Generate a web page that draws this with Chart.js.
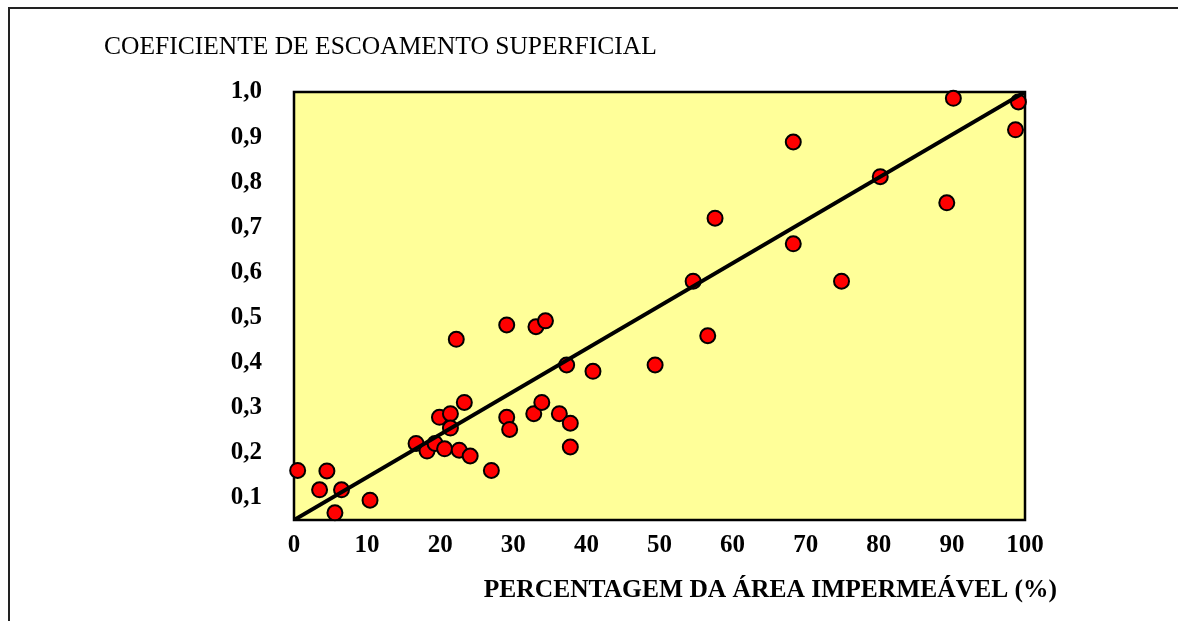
<!DOCTYPE html>
<html>
<head>
<meta charset="utf-8">
<script src="https://cdn.jsdelivr.net/npm/chart.js@4"></script>
<style>
  html, body { margin: 0; padding: 0; background: #fff; }
  #wrap { width: 1178px; height: 621px; }
</style>
</head>
<body>
<div id="wrap"><canvas id="runoffChart" width="1178" height="621"></canvas></div>
<script>
// Coeficiente de escoamento x % área impermeável

const imperv = [
  0.5, 4.5, 3.5, 6.5, 10.4, 5.6, 16.7, 18.2, 19.3, 20.6, 22.6, 24.1, 27.0,
  19.9, 21.4, 21.4, 23.3, 22.2, 29.1, 33.1, 34.4, 29.1, 29.5, 32.8, 33.9,
  36.3, 37.8, 37.8, 37.3, 40.9, 49.4, 56.6, 54.6, 57.6, 68.3, 68.3, 74.9,
  80.2, 89.3, 90.2, 98.7, 99.1
];
const coef = [
  0.160, 0.159, 0.117, 0.117, 0.094, 0.066, 0.220, 0.203, 0.220, 0.208, 0.205, 0.192, 0.160,
  0.278, 0.286, 0.254, 0.311, 0.451, 0.483, 0.479, 0.492, 0.278, 0.251, 0.286, 0.311,
  0.286, 0.265, 0.212, 0.394, 0.380, 0.394, 0.459, 0.580, 0.720, 0.663, 0.889, 0.580,
  0.812, 0.754, 0.986, 0.916, 0.978
];

// trend line end points
const trendX = [0, 100];
const trendY = [0.05, 1.0];

const yTicks = [0.1, 0.2, 0.3, 0.4, 0.5, 0.6, 0.7, 0.8, 0.9, 1.0];

const yTitle = 'COEFICIENTE DE ESCOAMENTO SUPERFICIAL';
const xTitle = 'PERCENTAGEM DA ÁREA IMPERMEÁVEL (%)';

const SERIF = '"Liberation Serif", "Times New Roman", serif';

const framePlugin = {
  id: 'frame',
  beforeDraw(chart) {
    const { ctx, chartArea: a } = chart;
    ctx.save();
    ctx.fillStyle = '#FFFF99';
    ctx.fillRect(a.left, a.top, a.right - a.left, a.bottom - a.top);
    // outer frame
    ctx.strokeStyle = '#222';
    ctx.lineWidth = 2;
    ctx.beginPath();
    ctx.moveTo(9, 700);
    ctx.lineTo(9, 8);
    ctx.lineTo(1200, 8);
    ctx.stroke();
    // titles
    ctx.fillStyle = '#000';
    ctx.textBaseline = 'middle';
    ctx.textAlign = 'left';
    ctx.font = '25.5px ' + SERIF;
    ctx.fillText(yTitle, 104, 47);
    ctx.font = 'bold 25.5px ' + SERIF;
    ctx.textAlign = 'right';
    ctx.fillText(xTitle, 1057, 590);
    ctx.restore();
  },
  beforeDatasetsDraw(chart) {
    const { ctx, chartArea: a } = chart;
    ctx.save();
    ctx.strokeStyle = '#000';
    ctx.lineWidth = 2.5;
    ctx.strokeRect(a.left, a.top, a.right - a.left, a.bottom - a.top);
    ctx.restore();
  }
};

new Chart(document.getElementById('runoffChart'), {
  type: 'scatter',
  data: {
    datasets: [
      {
        type: 'line',
        label: 'Tendência',
        data: trendX.map((x, i) => ({ x, y: trendY[i] })),
        borderColor: '#000',
        borderWidth: 4,
        pointRadius: 0,
        order: 0
      },
      {
        label: 'Observações',
        data: imperv.map((x, i) => ({ x, y: coef[i] })),
        backgroundColor: '#FF0000',
        borderColor: '#000',
        borderWidth: 2,
        pointRadius: 7.5,
        clip: false,
        order: 1
      }
    ]
  },
  options: {
    responsive: false,
    animation: false,
    layout: { padding: { left: 0, top: 92, right: 153, bottom: 0 } },
    plugins: {
      legend: { display: false },
      tooltip: { enabled: false }
    },
    scales: {
      x: {
        type: 'linear',
        min: 0,
        max: 100,
        grid: { display: false, drawTicks: false },
        border: { display: false },
        afterFit: (s) => { s.height = 101; },
        ticks: {
          stepSize: 10,
          padding: 11,
          color: '#000',
          font: { family: SERIF, size: 25, weight: 'bold' }
        }
      },
      y: {
        type: 'linear',
        min: 0.05,
        max: 1.0,
        grid: { display: false, drawTicks: false },
        border: { display: false },
        afterFit: (s) => { s.width = 294; },
        afterBuildTicks: (s) => { s.ticks = yTicks.map(v => ({ value: v })); },
        ticks: {
          padding: 32,
          color: '#000',
          font: { family: SERIF, size: 25, weight: 'bold' },
          callback: (v) => Number(v).toFixed(1).replace('.', ',')
        }
      }
    }
  },
  plugins: [framePlugin]
});
</script>
</body>
</html>
